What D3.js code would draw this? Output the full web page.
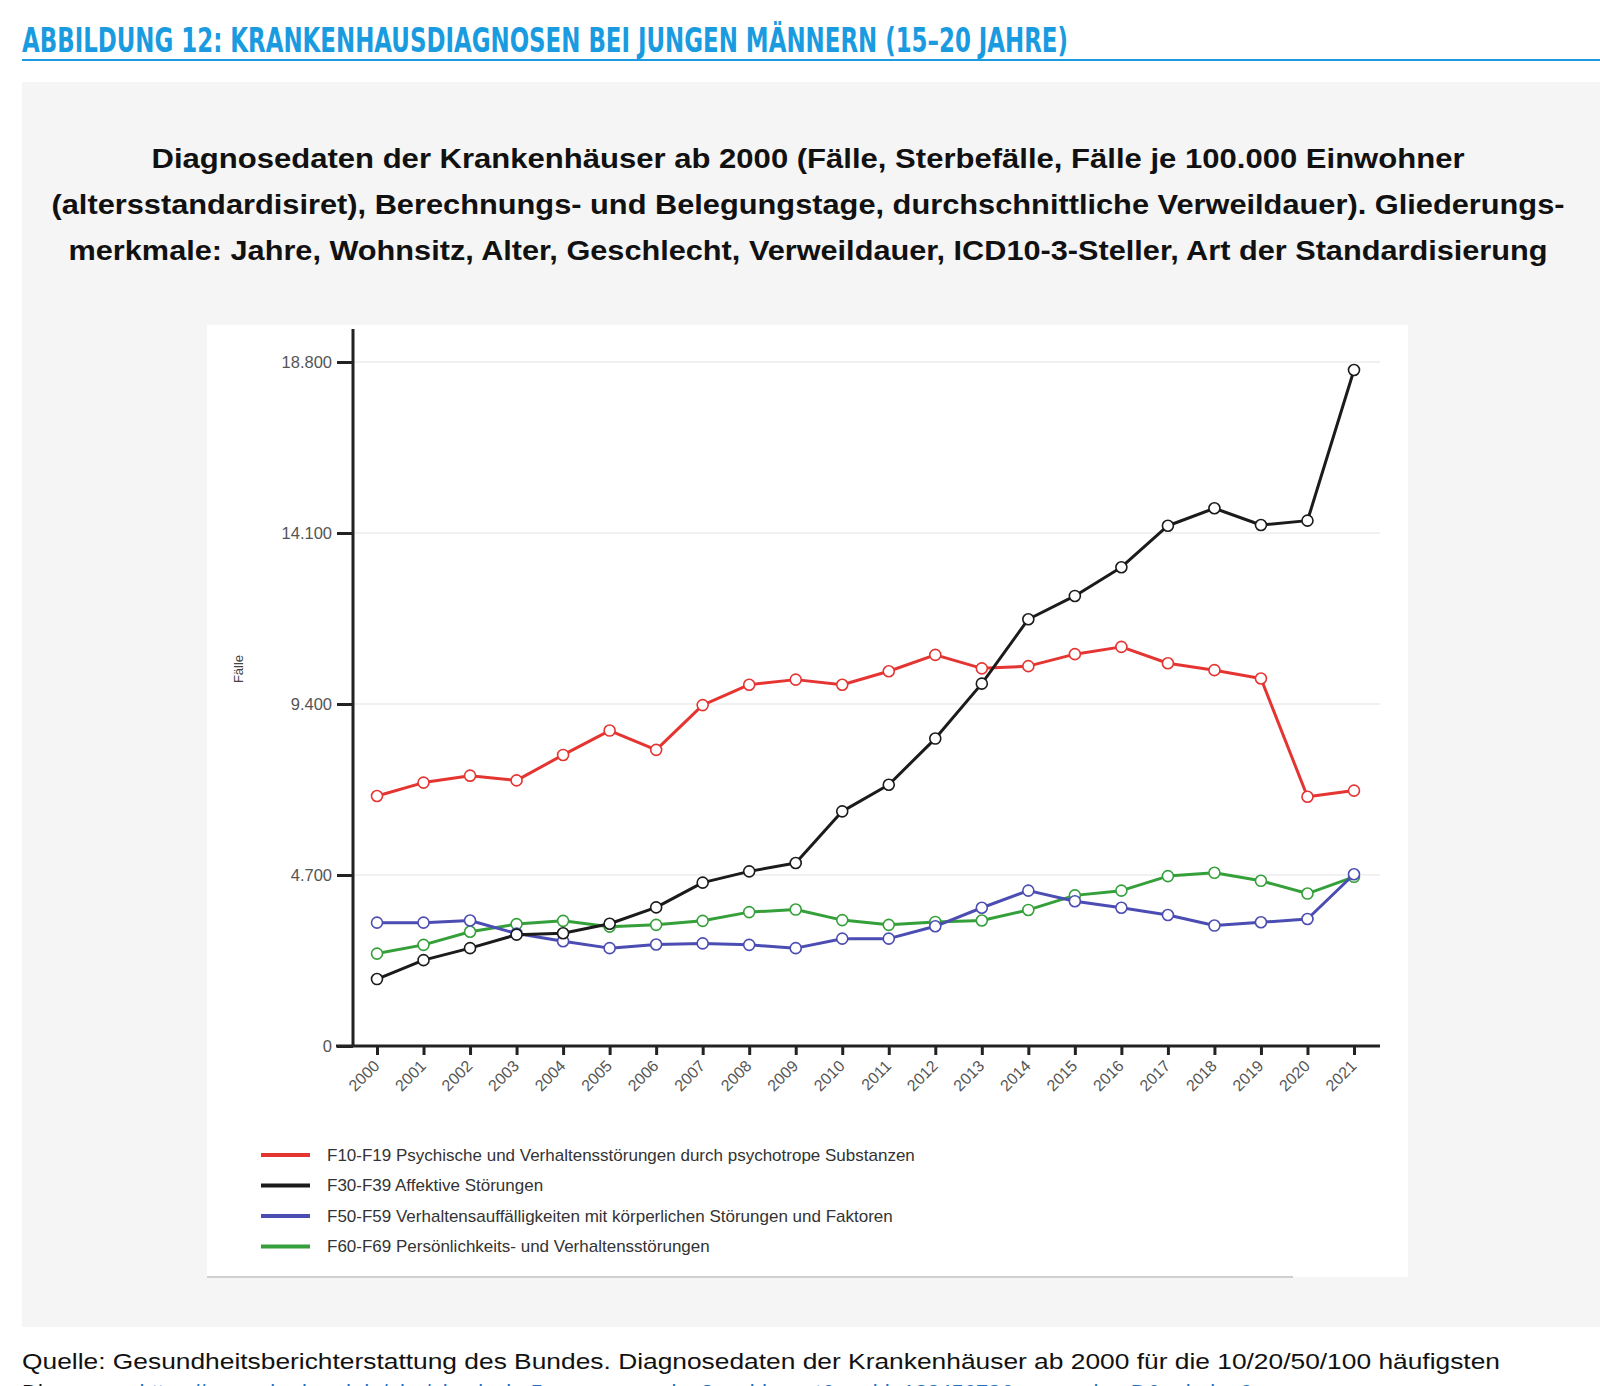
<!DOCTYPE html>
<html>
<head>
<meta charset="utf-8">
<script src="https://cdn.jsdelivr.net/npm/d3@7"></script>
<style>
  body { margin: 0; background: #fff; }
  svg { display: block; }
</style>
</head>
<body>
<div id="chart"></div>
<script>
const years = d3.range(2000, 2022).map(String);
const yTicks = [0, 4700, 9400, 14100, 18800];

const seriesNames = [
  "F10-F19 Psychische und Verhaltensstörungen durch psychotrope Substanzen",
  "F30-F39 Affektive Störungen",
  "F50-F59 Verhaltensauffälligkeiten mit körperlichen Störungen und Faktoren",
  "F60-F69 Persönlichkeits- und Verhaltensstörungen"
];
const f10 = [6870, 7240, 7430, 7300, 8000, 8670, 8140, 9370, 9930, 10070, 9930, 10300, 10750, 10380, 10440, 10770, 10970, 10520, 10330, 10100, 6850, 7020];
const f30 = [1840, 2360, 2690, 3060, 3100, 3360, 3810, 4490, 4800, 5030, 6450, 7180, 8450, 9960, 11730, 12370, 13160, 14300, 14780, 14320, 14440, 18580];
const f50 = [3390, 3390, 3450, 3090, 2880, 2690, 2790, 2820, 2780, 2690, 2950, 2950, 3290, 3800, 4270, 3980, 3800, 3600, 3310, 3400, 3490, 4720];
const f60 = [2540, 2780, 3140, 3350, 3440, 3280, 3330, 3440, 3680, 3750, 3460, 3330, 3410, 3450, 3740, 4140, 4270, 4670, 4760, 4540, 4190, 4650];
const seriesColors = ["#e53532", "#1b1b1b", "#4b4db3", "#35a03a"];

const W = 1600, H = 1386;
const svg = d3.select("#chart").append("svg").attr("width", W).attr("height", H);

// header
svg.append("text")
  .attr("x", 22).attr("y", 52)
  .attr("font-family", "'Liberation Sans Narrow', 'DejaVu Sans Condensed', sans-serif")
  .attr("font-weight", "bold").attr("font-size", 33)
  .attr("fill", "#1a9be0")
  .attr("textLength", 1046).attr("lengthAdjust", "spacingAndGlyphs")
  .text("ABBILDUNG 12: KRANKENHAUSDIAGNOSEN BEI JUNGEN MÄNNERN (15–20 JAHRE)");
svg.append("line").attr("x1", 22).attr("x2", 1600).attr("y1", 60).attr("y2", 60)
  .attr("stroke", "#1a9be0").attr("stroke-width", 2);

// grey panel
svg.append("rect").attr("x", 22).attr("y", 82).attr("width", 1578).attr("height", 1245).attr("fill", "#f5f5f5");

// title
const titleLines = [
  ["Diagnosedaten der Krankenhäuser ab 2000 (Fälle, Sterbefälle, Fälle je 100.000 Einwohner", 1313],
  ["(altersstandardisiret), Berechnungs- und Belegungstage, durchschnittliche Verweildauer). Gliederungs-", 1513],
  ["merkmale: Jahre, Wohnsitz, Alter, Geschlecht, Verweildauer, ICD10-3-Steller, Art der Standardisierung", 1479]
];
svg.append("g").selectAll("text").data(titleLines).join("text")
  .attr("x", 808).attr("y", (d, i) => 168 + i * 46)
  .attr("text-anchor", "middle")
  .attr("font-family", "'Liberation Sans', Arial, sans-serif")
  .attr("font-weight", "bold").attr("font-size", 28)
  .attr("fill", "#111")
  .attr("textLength", d => d[1]).attr("lengthAdjust", "spacingAndGlyphs")
  .text(d => d[0]);

// white chart panel
svg.append("rect").attr("x", 207).attr("y", 325).attr("width", 1201).attr("height", 952).attr("fill", "#fff");
svg.append("line").attr("x1", 207).attr("x2", 1293).attr("y1", 1277).attr("y2", 1277)
  .attr("stroke", "#cfcfcf").attr("stroke-width", 2);

// scales
const x = d3.scalePoint().domain(years).range([377, 1354]);
const y = d3.scaleLinear().domain([0, 18800]).range([1046, 362]);
const fmt = d => d3.format(",")(d).replace(/,/g, ".");

// gridlines
svg.append("g").selectAll("line").data(yTicks.slice(1)).join("line")
  .attr("x1", 353).attr("x2", 1380)
  .attr("y1", d => y(d)).attr("y2", d => y(d))
  .attr("stroke", "#ececec").attr("stroke-width", 1.5);

// y axis
const yAxis = svg.append("g").attr("transform", "translate(353,0)")
  .call(d3.axisLeft(y).tickValues(yTicks).tickFormat(fmt).tickSize(16).tickPadding(5));
yAxis.select(".domain").remove();
yAxis.selectAll(".tick line").attr("stroke", "#222").attr("stroke-width", 3);
yAxis.selectAll(".tick text").attr("font-family", "'Liberation Sans', Arial, sans-serif")
  .attr("font-size", 16.5).attr("fill", "#555");
svg.append("line").attr("x1", 353).attr("x2", 353).attr("y1", 329).attr("y2", 1047)
  .attr("stroke", "#222").attr("stroke-width", 3);

// x axis
const xAxis = svg.append("g").attr("transform", "translate(0,1046)")
  .call(d3.axisBottom(x).tickSize(9));
xAxis.select(".domain").remove();
xAxis.selectAll(".tick line").attr("stroke", "#222").attr("stroke-width", 3);
xAxis.selectAll(".tick text")
  .attr("font-family", "'Liberation Sans', Arial, sans-serif")
  .attr("font-size", 16).attr("fill", "#555")
  .attr("text-anchor", "end")
  .attr("y", 0).attr("dy", "0.35em")
  .attr("transform", "translate(-1,17) rotate(-45)");
svg.append("line").attr("x1", 336).attr("x2", 1380).attr("y1", 1046).attr("y2", 1046)
  .attr("stroke", "#222").attr("stroke-width", 3);

// y label
svg.append("text")
  .attr("transform", "translate(243,669) rotate(-90)")
  .attr("text-anchor", "middle")
  .attr("font-family", "'Liberation Sans', Arial, sans-serif")
  .attr("font-size", 13).attr("fill", "#444")
  .text("Fälle");

// lines + markers
const allSeries = [f10, f30, f50, f60];
const line = d3.line().x((d, i) => x(years[i])).y(d => y(d));
// draw order: green, blue, red, black
[3, 2, 0, 1].forEach(k => {
  const g = svg.append("g");
  g.append("path").datum(allSeries[k])
    .attr("d", line).attr("fill", "none")
    .attr("stroke", seriesColors[k]).attr("stroke-width", 3)
    .attr("stroke-linejoin", "round");
  g.selectAll("circle").data(allSeries[k]).join("circle")
    .attr("cx", (d, i) => x(years[i])).attr("cy", d => y(d))
    .attr("r", 5.5).attr("fill", "#fff")
    .attr("stroke", seriesColors[k]).attr("stroke-width", 1.6);
});

// legend
const legend = svg.append("g").selectAll("g").data(seriesNames).join("g")
  .attr("transform", (d, i) => `translate(261,${1155 + i * 30.5})`);
legend.append("line").attr("x1", 0).attr("x2", 49)
  .attr("stroke", (d, i) => seriesColors[i]).attr("stroke-width", 4);
legend.append("text").attr("x", 66).attr("dy", "0.35em")
  .attr("font-family", "'Liberation Sans', Arial, sans-serif")
  .attr("font-size", 17).attr("fill", "#333")
  .text(d => d);

// source
svg.append("text")
  .attr("x", 22).attr("y", 1369)
  .attr("font-family", "'Liberation Sans', Arial, sans-serif")
  .attr("font-size", 22).attr("fill", "#111")
  .attr("textLength", 1478).attr("lengthAdjust", "spacingAndGlyphs")
  .text("Quelle: Gesundheitsberichterstattung des Bundes. Diagnosedaten der Krankenhäuser ab 2000 für die 10/20/50/100 häufigsten");
const src2 = svg.append("text")
  .attr("x", 22).attr("y", 1400)
  .attr("font-family", "'Liberation Sans', Arial, sans-serif")
  .attr("font-size", 22).attr("fill", "#111");
src2.append("tspan").text("Diagnosen: ");
src2.append("tspan").attr("fill", "#1f6fc5")
  .text("https://www.gbe-bund.de/gbe/pkg_isgbe5.prc_menu_olap?p_uid=gast&p_aid=12345678&p_sprache=D&p_help=0");
</script>
</body>
</html>
